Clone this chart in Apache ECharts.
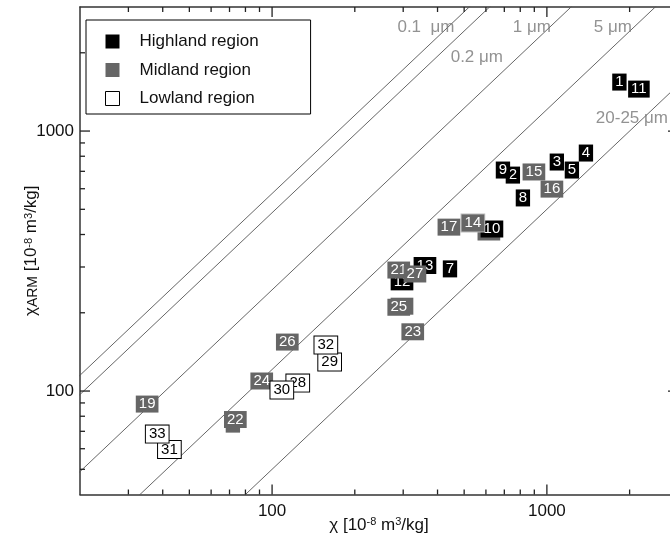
<!DOCTYPE html>
<html>
<head>
<meta charset="utf-8">
<script src="https://cdn.jsdelivr.net/npm/echarts@6/dist/echarts.min.js"></script>
<style>
  html, body { margin: 0; padding: 0; background: #fff; }
  #main { width: 670px; height: 541px; }
</style>
</head>
<body>
<div id="main"></div>
<script>
// axis ticks (log axes)
const xMajor = [100, 1000]
const xMinor = [30, 40, 50, 60, 70, 80, 90, 200, 300, 400, 500, 600, 700, 800, 900, 2000]
const yMajor = [100, 1000]
const yMinor = [50, 60, 70, 80, 90, 200, 300, 400, 500, 600, 700, 800, 900, 2000]

// grain size lines: chiARM / chi ratio
const sizeNames = ['0.1  μm', '0.2 μm', '1 μm', '5 μm', '20-25 μm']
const sizeRatios = [5.75, 4.85, 2.45, 1.21, 0.5]
// where each size label sits, in data units [chi, chiARM]
const sizeLabelAt = [[363, 2512], [556, 1926], [882, 2512], [1739, 2512], [2039, 1122]]

// samples: [chi, chiARM, number]
const highland = [
  [1836, 1543, '1'], [752, 677, '2'], [1087, 760, '3'], [1387, 823, '4'],
  [1233, 708, '5'], [444, 295, '7'], [818, 553, '8'], [692, 708, '9'],
  [631, 420, '10'], [2162, 1450, '11'], [297, 263, '12'], [360, 304, '13']
]
// midland samples that sit underneath other boxes
const midlandHidden = [[615, 409, '18'], [297, 212, '20'], [72, 74.6, '6']]
const midland = [
  [538, 443, '14'], [897, 696, '15'], [1043, 598, '16'], [440, 427, '17'],
  [35.1, 89.1, '19'], [289, 292, '21'], [73.5, 77.7, '22'], [325, 169, '23'],
  [91.7, 109.3, '24'], [289, 210, '25'], [113.6, 154.3, '26'], [331, 282, '27']
]
const lowland = [
  [124, 107.3, '28'], [162, 129.3, '29'], [108.5, 100.9, '30'], [42.3, 59.6, '31'],
  [156.9, 150.3, '32'], [38.2, 68.3, '33']
]

const FONT = 'Liberation Sans, Arial, sans-serif'
const X_MIN = 20, X_MAX = 3000, Y_MIN = 40, Y_MAX = 3000
const MAJOR_LEN = 10, MINOR_LEN = 5

const chart = echarts.init(document.getElementById('main'))

function boxLabel(bg, fg, border) {
  return {
    show: true,
    position: 'inside',
    formatter: p => p.data.value ? p.data.value[2] : p.data[2],
    fontFamily: FONT,
    fontSize: 15,
    lineHeight: 16,
    color: fg,
    backgroundColor: bg,
    borderColor: border || bg,
    borderWidth: border ? 1 : 0,
    padding: [1, 3, 0, 3]
  }
}

function sampleSeries(name, data, bg, fg, border) {
  return {
    name: name,
    type: 'scatter',
    symbol: 'rect',
    symbolSize: 1,
    itemStyle: { color: 'rgba(0,0,0,0)', opacity: 1 },
    label: boxLabel(bg, fg, border),
    labelLayout: { hideOverlap: false },
    emphasis: { disabled: true },
    silent: true,
    z: 5,
    data: data
  }
}

// tick marks on all four sides, pointing inward
function tickLine(x1, y1, x2, y2) {
  return { type: 'line', shape: { x1: x1, y1: y1, x2: x2, y2: y2 }, style: { stroke: '#222', lineWidth: 1.3 } }
}

function tickSeries(dim, major, minor) {
  const vals = major.concat(minor)
  return {
    type: 'custom',
    silent: true,
    clip: false,
    z: 10,
    encode: { x: 0, y: 1 },
    data: vals.map(v => dim === 'x' ? [v, Y_MIN] : [X_MIN, v]),
    renderItem: function(params, api) {
      const v = dim === 'x' ? api.value(0) : api.value(1)
      const len = major.indexOf(v) >= 0 ? MAJOR_LEN : MINOR_LEN
      let a, b
      if (dim === 'x') {
        a = api.coord([v, Y_MIN])
        b = api.coord([v, Y_MAX])
        return { type: 'group', children: [
          tickLine(a[0], a[1], a[0], a[1] - len),
          tickLine(b[0], b[1], b[0], b[1] + len)
        ] }
      }
      a = api.coord([X_MIN, v])
      b = api.coord([X_MAX, v])
      return { type: 'group', children: [
        tickLine(a[0], a[1], a[0] + len, a[1]),
        tickLine(b[0], b[1], b[0] - len, b[1])
      ] }
    }
  }
}

function axisBase(min, max, pos) {
  return {
    type: 'log', min: min, max: max, position: pos,
    axisLine: { show: true, lineStyle: { color: '#333', width: 1.5 } },
    axisTick: { show: false },
    splitLine: { show: false },
    nameMoveOverlap: false
  }
}

const xBottom = axisBase(X_MIN, X_MAX, 'bottom')
xBottom.axisLabel = { customValues: xMajor, formatter: v => String(v), fontFamily: FONT, fontSize: 17, color: '#111', margin: 8 }
xBottom.name = 'χ [10{sup|-8} m{sup|3}/kg]'
xBottom.nameLocation = 'middle'
xBottom.nameGap = 22
xBottom.nameTextStyle = {
  fontFamily: FONT, fontSize: 17, color: '#111',
  rich: { sup: { fontFamily: FONT, fontSize: 11, verticalAlign: 'top', color: '#111' } }
}
const xTop = axisBase(X_MIN, X_MAX, 'top')
xTop.axisLabel = { show: false }

const yLeft = axisBase(Y_MIN, Y_MAX, 'left')
yLeft.axisLabel = { customValues: yMajor, formatter: v => String(v), fontFamily: FONT, fontSize: 17, color: '#111', margin: 6 }
yLeft.name = 'χ{sub|ARM} [10{sup|-8} m{sup|3}/kg]'
yLeft.nameLocation = 'middle'
yLeft.nameGap = 40
yLeft.nameTextStyle = {
  fontFamily: FONT, fontSize: 17, color: '#111',
  rich: {
    sup: { fontFamily: FONT, fontSize: 11, verticalAlign: 'top', color: '#111' },
    sub: { fontFamily: FONT, fontSize: 14, verticalAlign: 'bottom', color: '#111' }
  }
}
const yRight = axisBase(Y_MIN, Y_MAX, 'right')
yRight.axisLabel = { show: false }

const lineSeries = sizeRatios.map((r, i) => ({
  name: sizeNames[i],
  type: 'line',
  data: [[X_MIN / 2, X_MIN / 2 * r], [X_MAX * 2, X_MAX * 2 * r]],
  showSymbol: false,
  symbol: 'none',
  clip: true,
  silent: true,
  lineStyle: { color: '#555', width: 0.9 },
  z: 1
}))

const sizeLabelSeries = {
  type: 'scatter',
  symbolSize: 0,
  silent: true,
  z: 2,
  data: sizeLabelAt.map((p, i) => ({ value: p, name: sizeNames[i] })),
  label: {
    show: true, position: 'inside', formatter: p => p.name,
    fontFamily: FONT, fontSize: 17, color: '#777'
  }
}

chart.setOption({
  animation: false,
  grid: { left: 80, top: 7, width: 598, height: 487.5, outerBoundsMode: 'none', containLabel: false },
  xAxis: [xBottom, xTop],
  yAxis: [yLeft, yRight],
  legend: {
    orient: 'vertical',
    left: 86, top: 20,
    padding: [13, 52, 7, 19],
    itemWidth: 14, itemHeight: 14, itemGap: 11.5,
    borderColor: '#000', borderWidth: 1,
    backgroundColor: '#fff',
    textStyle: { fontFamily: FONT, fontSize: 17, color: '#111', padding: [0, 0, 0, 15] },
    selectedMode: false,
    data: [
      { name: 'Highland region', icon: 'rect', itemStyle: { color: '#000', borderWidth: 0, opacity: 1 } },
      { name: 'Midland region', icon: 'rect', itemStyle: { color: '#666', borderWidth: 0, opacity: 1 } },
      { name: 'Lowland region', icon: 'rect', itemStyle: { color: '#fff', borderColor: '#000', borderWidth: 1, opacity: 1 } }
    ]
  },
  series: [
    tickSeries('x', xMajor, xMinor),
    tickSeries('y', yMajor, yMinor)
  ].concat(lineSeries, [
    sizeLabelSeries,
    sampleSeries('Midland region', midlandHidden, '#666', '#fff'),
    sampleSeries('Highland region', highland, '#000', '#fff'),
    sampleSeries('Midland region', midland.map(d => d[2] === '14'
      ? { value: d, label: { borderColor: '#bbb', borderWidth: 1 } } : d), '#666', '#fff'),
    sampleSeries('Lowland region', lowland, '#fff', '#000', '#000')
  ])
})
</script>
</body>
</html>
